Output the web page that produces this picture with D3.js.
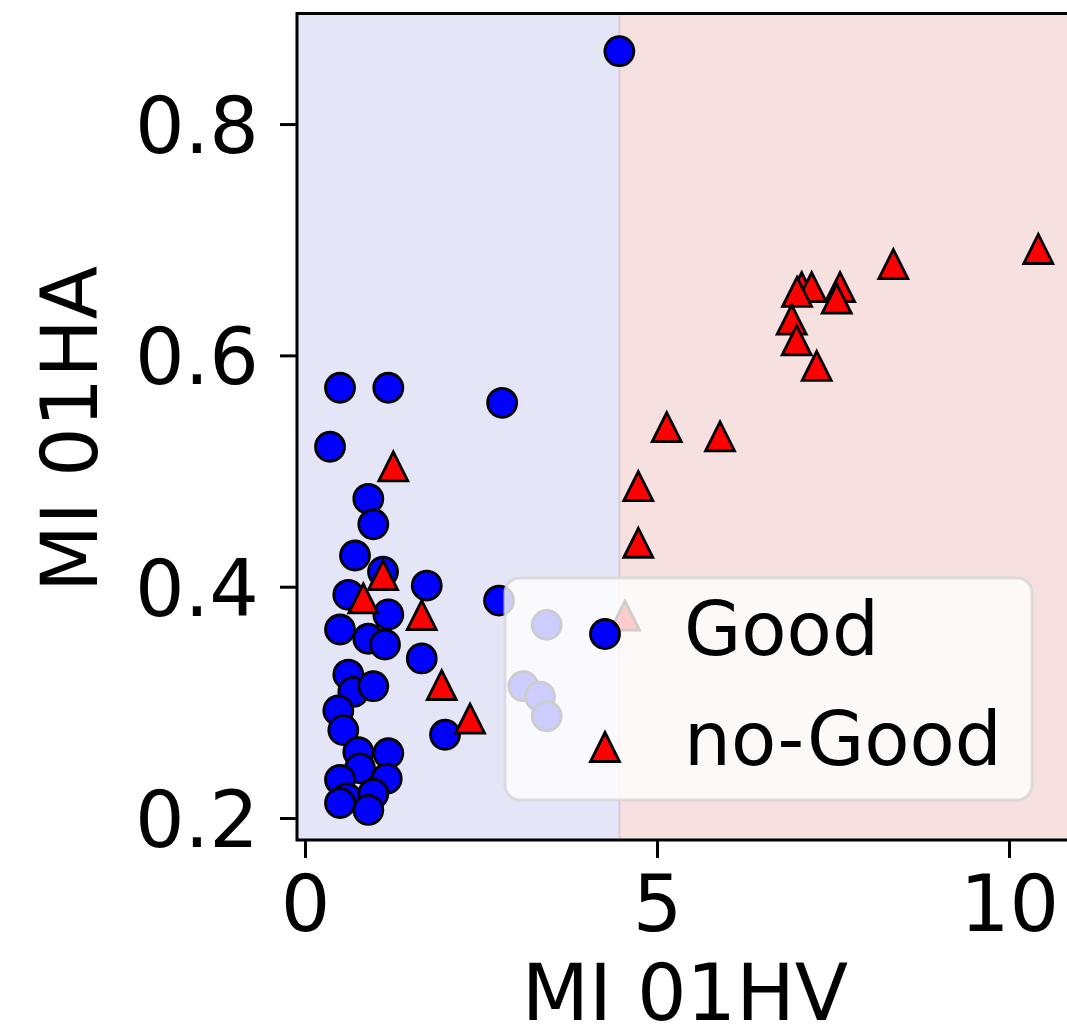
<!DOCTYPE html>
<html>
<head>
<meta charset="utf-8">
<script src="https://cdn.jsdelivr.net/npm/d3@7"></script>
<style>
  html, body { margin: 0; padding: 0; background: #ffffff; }
  svg { display: block; }
  text { font-family: "DejaVu Sans", sans-serif; fill: #000; }
</style>
</head>
<body>
<svg id="chart" width="1067" height="1028"></svg>
<script>
// ---- data ----
const goodX = [4.465, 0.497, 1.183, 0.355, 2.800, 0.899, 0.970, 0.710, 1.108, 0.615,
               1.729, 1.183, 0.497, 0.899, 1.136, 1.658, 0.615, 0.686, 0.970, 0.473,
               0.544, 1.989, 0.757, 1.183, 0.781, 0.497, 1.160, 0.592, 0.970, 0.899,
               0.497, 2.756, 3.433, 3.101, 3.338, 3.433];
const goodY = [0.863, 0.572, 0.572, 0.521, 0.559, 0.476, 0.454, 0.427, 0.413, 0.393,
               0.401, 0.376, 0.363, 0.355, 0.350, 0.338, 0.324, 0.309, 0.314, 0.293,
               0.276, 0.272, 0.257, 0.256, 0.243, 0.233, 0.234, 0.217, 0.221, 0.207,
               0.213, 0.388, 0.367, 0.314, 0.305, 0.288];
const badX = [10.416, 8.357, 7.055, 7.197, 7.600, 7.553, 6.989, 6.913, 6.984, 7.268,
              5.138, 5.895, 4.734, 4.734, 4.545, 1.254, 1.108, 0.828, 1.658, 1.942, 2.344];
const badY = [0.692, 0.679, 0.659, 0.659, 0.659, 0.649, 0.655, 0.631, 0.613, 0.591,
              0.538, 0.530, 0.487, 0.438, 0.375, 0.504, 0.410, 0.390, 0.3755, 0.315, 0.286];
const boundaryX = 4.467;
const xTicks = [0, 5, 10];
const yTicks = [0.2, 0.4, 0.6, 0.8];
const xTickLabels = ["0", "5", "10"];
const yTickLabels = ["0.2", "0.4", "0.6", "0.8"];
const xLabel = "MI 01HV";
const yLabel = "MI 01HA";
const legendLabels = ["Good", "no-Good"];

// ---- layout ----
const svg = d3.select("#chart");
const L = 297, R = 1073, T = 13.5, B = 840;
const x = d3.scaleLinear().domain([-0.114, 10.909]).range([L, R]);
const y = d3.scaleLinear().domain([0.181, 0.8956]).range([B, T]);
const FS = 78;
const LFS = 74;

svg.append("defs").append("clipPath").attr("id", "clip")
  .append("rect").attr("x", L).attr("y", T).attr("width", R - L).attr("height", B - T);

const plot = svg.append("g").attr("clip-path", "url(#clip)");
// decision regions
plot.append("rect").attr("x", L).attr("y", T)
  .attr("width", x(boundaryX) - L).attr("height", B - T).attr("fill", "#e4e6f7");
plot.append("rect").attr("x", x(boundaryX)).attr("y", T)
  .attr("width", R - x(boundaryX)).attr("height", B - T).attr("fill", "#f6e0e0");
plot.append("line").attr("x1", x(boundaryX)).attr("x2", x(boundaryX))
  .attr("y1", T).attr("y2", B).attr("stroke", "#dcc8dc").attr("stroke-width", 2);

const tri = s => `M0,${-s}L${-s},${s}L${s},${s}Z`;

const good = d3.range(goodX.length).map(i => ({x: goodX[i], y: goodY[i]}));
const bad = d3.range(badX.length).map(i => ({x: badX[i], y: badY[i]}));

plot.selectAll("circle.good").data(good).enter().append("circle")
  .attr("class", "good")
  .attr("cx", d => x(d.x)).attr("cy", d => y(d.y)).attr("r", 14.5)
  .attr("fill", "#0000ff").attr("stroke", "#000").attr("stroke-width", 2.8);

plot.selectAll("path.bad").data(bad).enter().append("path")
  .attr("class", "bad")
  .attr("transform", d => `translate(${x(d.x)},${y(d.y)})`)
  .attr("d", tri(14.5))
  .attr("fill", "#ff0000").attr("stroke", "#000").attr("stroke-width", 2.8)
  .attr("stroke-linejoin", "miter");

// spines
svg.append("rect").attr("x", L).attr("y", T).attr("width", R - L).attr("height", B - T)
  .attr("fill", "none").attr("stroke", "#000").attr("stroke-width", 3);

// axes
const xAxis = d3.axisBottom(x).tickValues(xTicks).tickSize(18).tickPadding(0)
  .tickFormat((d, i) => xTickLabels[i]);
const gx = svg.append("g").attr("transform", `translate(0,${B})`).call(xAxis);
gx.select(".domain").remove();
gx.selectAll(".tick line").attr("stroke", "#000").attr("stroke-width", 3);
gx.selectAll(".tick text").attr("font-size", FS).attr("dy", null).attr("y", 91)
  .attr("font-family", "DejaVu Sans");

const yAxis = d3.axisLeft(y).tickValues(yTicks).tickSize(17).tickPadding(0)
  .tickFormat((d, i) => yTickLabels[i]);
const gy = svg.append("g").attr("transform", `translate(${L},0)`).call(yAxis);
gy.select(".domain").remove();
gy.selectAll(".tick line").attr("stroke", "#000").attr("stroke-width", 3);
gy.selectAll(".tick text").attr("font-size", FS).attr("dy", null).attr("x", -38).attr("y", 28.5)
  .attr("font-family", "DejaVu Sans");

// axis labels
svg.append("text").attr("x", 685).attr("y", 1020).attr("text-anchor", "middle")
  .attr("font-size", FS).text(xLabel);
svg.append("text").attr("transform", `translate(97,429) rotate(-90)`)
  .attr("text-anchor", "middle").attr("font-size", FS).text(yLabel);

// legend
const lg = svg.append("g");
lg.append("rect").attr("x", 505).attr("y", 578).attr("width", 527).attr("height", 222)
  .attr("rx", 15).attr("ry", 15)
  .attr("fill", "#ffffff").attr("fill-opacity", 0.8)
  .attr("stroke", "#d6d6d6").attr("stroke-opacity", 0.8).attr("stroke-width", 3);
lg.append("circle").attr("cx", 605).attr("cy", 634).attr("r", 14.5)
  .attr("fill", "#0000ff").attr("stroke", "#000").attr("stroke-width", 2.8);
lg.append("path").attr("transform", "translate(605,747)").attr("d", tri(14.5))
  .attr("fill", "#ff0000").attr("stroke", "#000").attr("stroke-width", 2.8);
lg.selectAll("text.leg").data(legendLabels).enter().append("text")
  .attr("class", "leg").attr("x", 684).attr("y", (d, i) => 655 + i * 110)
  .attr("font-size", LFS).text(d => d);
</script>
</body>
</html>
